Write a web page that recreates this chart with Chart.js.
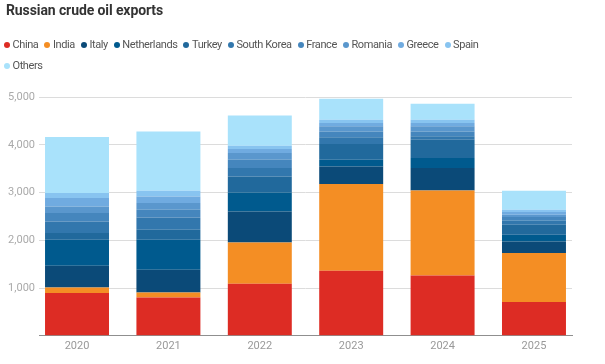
<!DOCTYPE html>
<html>
<head>
<meta charset="utf-8">
<title>Russian crude oil exports</title>
<script src="https://cdn.jsdelivr.net/npm/chart.js@4"></script>
<style>
  html, body { margin: 0; padding: 0; background: #fff; }
  #wrap { position: relative; width: 605px; height: 364px; overflow: hidden; }
  #chart { position: absolute; left: 0; top: 0; }
  #title {
    position: absolute; left: 6px; top: 2px;
    font: bold 14px Roboto, sans-serif; letter-spacing: -0.1px;
    color: #333; white-space: nowrap;
  }
  #legend {
    position: absolute; left: 4px; top: 34px; width: 520px;
    display: flex; flex-wrap: wrap;
    font: 11px Roboto, sans-serif; letter-spacing: -0.4px; color: #555;
  }
  #legend .item { display: inline-flex; align-items: center; height: 21px; margin-right: 6px; }
  #legend .dot { width: 6px; height: 6px; border-radius: 50%; margin-right: 2.5px; }
</style>
</head>
<body>
<div id="wrap">
  <canvas id="chart" width="605" height="364"></canvas>
  <div id="title">Russian crude oil exports</div>
  <div id="legend"></div>
</div>
<script>
// thousand barrels per day
const years = ['2020', '2021', '2022', '2023', '2024', '2025'];
const china       = [895, 803, 1089, 1362, 1264, 706];
const india       = [115, 105, 866, 1816, 1780, 1027];
const italy       = [455, 475, 649, 369, 469, 243];
const netherlands = [545, 628, 398, 140, 210, 140];
const turkey      = [141, 210, 335, 329, 383, 209];
const southKorea  = [243, 257, 176, 139, 70, 84];
const france      = [175, 162, 174, 125, 104, 78];
const romania     = [139, 140, 140, 105, 105, 48];
const greece      = [175, 138, 84, 70, 70, 56];
const spain       = [105, 120, 70, 70, 70, 49];
const others      = [1173, 1242, 634, 440, 335, 398];

const yTicks = [1000, 2000, 3000, 4000, 5000];

const series = [
  { label: 'China', data: china, color: '#dd2c24' },
  { label: 'India', data: india, color: '#f48e24' },
  { label: 'Italy', data: italy, color: '#0b4a78' },
  { label: 'Netherlands', data: netherlands, color: '#005a8e' },
  { label: 'Turkey', data: turkey, color: '#21699c' },
  { label: 'South Korea', data: southKorea, color: '#3277ad' },
  { label: 'France', data: france, color: '#4586bd' },
  { label: 'Romania', data: romania, color: '#5a97cd' },
  { label: 'Greece', data: greece, color: '#70abe0' },
  { label: 'Spain', data: spain, color: '#88c4f0' },
  { label: 'Others', data: others, color: '#a9e2fb' }
];

const datasets = series.map(s => ({
  label: s.label,
  data: s.data.map((v, i) => ({ x: i, y: v })),
  backgroundColor: s.color,
  borderWidth: 0,
  categoryPercentage: 1,
  barPercentage: 0.7
}));

// html legend, wraps like the original
const legendEl = document.getElementById('legend');
for (const s of series) {
  const item = document.createElement('span');
  item.className = 'item';
  const dot = document.createElement('span');
  dot.className = 'dot';
  dot.style.background = s.color;
  item.appendChild(dot);
  item.appendChild(document.createTextNode(s.label));
  legendEl.appendChild(item);
}

const tickFont = { family: 'Roboto', size: 11 };

new Chart(document.getElementById('chart').getContext('2d'), {
  type: 'bar',
  data: { datasets },
  options: {
    responsive: false,
    animation: false,
    layout: { padding: { top: 97, right: 33, bottom: 7, left: 0 } },
    plugins: {
      legend: { display: false },
      tooltip: { enabled: false }
    },
    scales: {
      x: {
        type: 'linear',
        stacked: true,
        offset: false,
        min: -0.416,
        max: 5.416,
        grid: { display: false, drawTicks: false, offset: false },
        border: { display: true, color: '#8f8f8f', width: 1 },
        ticks: {
          stepSize: 1,
          includeBounds: false,
          padding: 4,
          color: '#999',
          font: tickFont,
          callback: v => years[v] ?? ''
        }
      },
      y: {
        stacked: true,
        min: 0,
        max: 5000,
        afterFit: scale => { scale.width = 39; },
        afterBuildTicks: scale => { scale.ticks = [0, ...yTicks].map(v => ({ value: v })); },
        grid: { color: '#dcdcdc', drawTicks: false },
        border: { display: false },
        ticks: {
          padding: 4,
          color: '#aaa',
          font: tickFont,
          callback: v => v === 0 ? '' : v.toLocaleString('en-US')
        }
      }
    }
  }
});
</script>
</body>
</html>
